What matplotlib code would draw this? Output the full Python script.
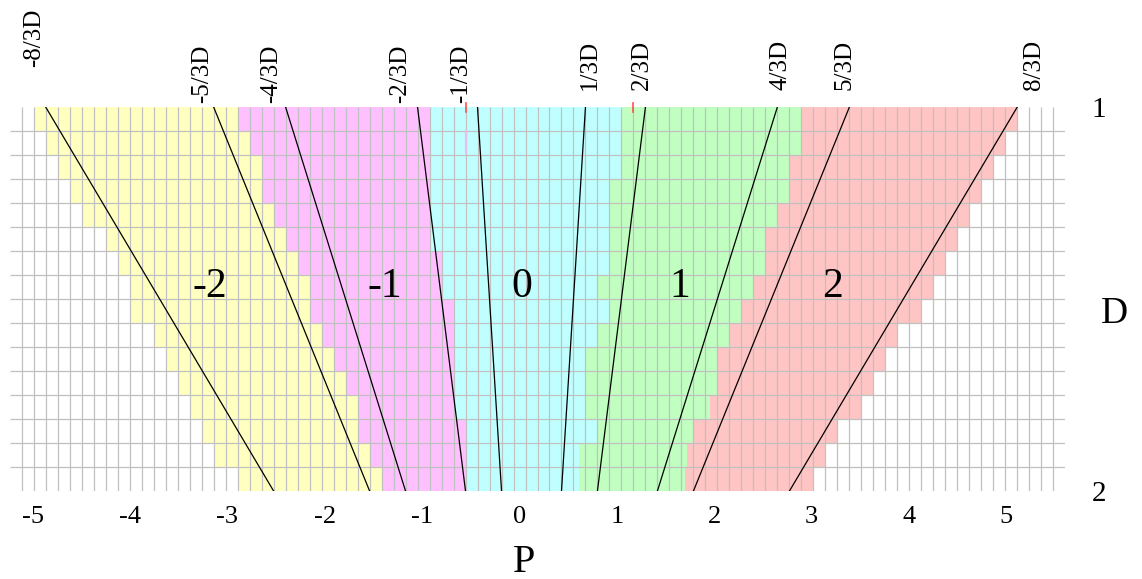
import numpy as np
import matplotlib
matplotlib.use("Agg")
from matplotlib import pyplot as plt

plt.rcParams['font.family'] = ['Liberation Serif', 'DejaVu Serif']

# raster: 16 rows of D (1 -> 2), cells counted in columns from the left of the coloured area
N_ROWS = 16
GRID_P0 = -4.99      # P of column 0
CELL_W = 0.1232      # P width of one column

# first column of each region per row (regions -2, -1, 0, 1, 2) and the end of region 2
start_m2 = [0, 1, 2, 3, 4, 6, 7, 8, 8, 10, 11, 12, 13, 14, 15, 17]
start_m1 = [17, 18, 19, 19, 20, 21, 22, 23, 23, 24, 25, 26, 27, 27, 28, 29]
start_0 = [33, 33, 33, 33, 33, 33, 34, 34, 35, 35, 35, 35, 35, 36, 36, 36]
start_1 = [49, 49, 49, 48, 48, 48, 48, 47, 48, 47, 46, 46, 46, 47, 45.5, 45.5]
start_2 = [64, 64, 63, 63, 62, 61, 61, 60, 59, 58, 57, 57, 56.4, 55, 54.5, 54.3]
end_2 = [82, 81, 80, 79, 78, 77, 76, 75, 74, 72, 71, 70, 69, 67, 66, 65]

regions = [-2, -1, 0, 1, 2]
region_colors = ['#ffffc0', '#ffc0ff', '#c0ffff', '#c0ffc0', '#ffc4c4']

# straight lines: P at D=1 and at D=2
line_names = ['-8/3D', '-5/3D', '-4/3D', '-2/3D', '-1/3D', '1/3D', '2/3D', '4/3D', '5/3D', '8/3D']
line_p_d1 = [-4.867, -3.142, -2.403, -1.048, -0.432, 0.677, 1.293, 2.648, 3.388, 5.112]
line_p_d2 = [-2.526, -1.540, -1.171, -0.555, -0.185, 0.431, 0.800, 1.416, 1.786, 2.772]

red_marks_p = [-0.552, 1.169]
tick_p = [-5, -4, -3, -2, -1, 0, 1, 2, 3, 4, 5]

# label placement (P of text centre, D of text top)
label_x = [-4.987, -3.262, -2.554, -1.229, -0.603, 0.722, 1.253, 2.683, 3.340, 5.286]
label_top = [0.745, 0.838, 0.838, 0.838, 0.838, 0.826, 0.826, 0.826, 0.826, 0.826]
region_label_p = [-3.18, -1.383, 0.023, 1.646, 3.217]
region_label_d = 1.469


def col_p(k):
    return GRID_P0 + np.asarray(k, dtype=float) * CELL_W


fig = plt.figure(figsize=(11.42, 5.79), dpi=100)
ax = fig.add_axes([9.7 / 1142, 88 / 579, 1055.6 / 1142, 384 / 579])

row_top = 1 + np.arange(N_ROWS) / N_ROWS
row_h = 1 / N_ROWS
bounds = [start_m2, start_m1, start_0, start_1, start_2, end_2]
for i, col in enumerate(region_colors):
    left = col_p(bounds[i])
    right = col_p(bounds[i + 1])
    ax.barh(row_top + row_h / 2, right - left, left=left, height=row_h,
            color=col, linewidth=0, zorder=1)

# grid
ax.vlines(col_p(np.arange(-1, 86)), 1, 2, color='#c0c0c0', lw=0.9, zorder=2)
ax.hlines(1 + np.arange(1, N_ROWS) / N_ROWS, col_p(-2), col_p(86), color='#c0c0c0', lw=0.9, zorder=2)

for a, b in zip(line_p_d1, line_p_d2):
    ax.plot([a, b], [1, 2], color='black', lw=0.9, zorder=3)

for p in red_marks_p:
    ax.plot([p, p], [0.989, 1.012], color='#ff5050', lw=1.2, zorder=4, clip_on=False)
ax.plot([red_marks_p[0]] * 2, [1.0625, 1.12], color='#f0b8f0', lw=1.5, zorder=2)

for name, x, y in zip(line_names, label_x, label_top):
    ax.text(x, y, name, rotation=90, ha='center', va='top', fontsize=18, clip_on=False)

for r, x in zip(regions, region_label_p):
    ax.text(x, region_label_d, str(r), ha='center', va='center', fontsize=30, zorder=5)

ax.set_xlim(col_p(-2), col_p(86))
ax.set_ylim(2, 1)
for s in ax.spines.values():
    s.set_visible(False)

ax.set_xticks(tick_p)
ax.set_xticklabels([str(v) for v in tick_p], fontsize=19)
ax.tick_params(axis='x', length=0, pad=10.5)
ax.yaxis.tick_right()
ax.set_yticks([1, 2])
ax.set_yticklabels(['1', '2'], fontsize=21)
ax.tick_params(axis='y', length=0, pad=19)

ax.set_xlabel('P', fontsize=29, va='center')
ax.xaxis.set_label_coords(0.4872, -0.185)
ax.yaxis.set_label_position('right')
ax.set_ylabel('D', fontsize=27, rotation=0, va='center', ha='center')
ax.yaxis.set_label_coords(1.047, 0.462)

fig.savefig('out.png', dpi=100)
